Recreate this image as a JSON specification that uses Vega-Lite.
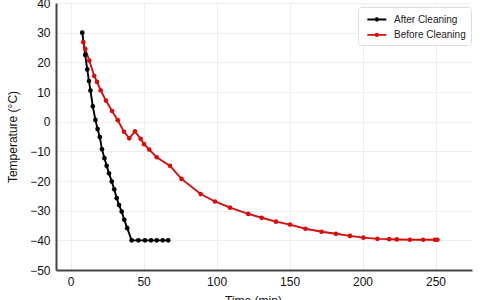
{
  "$schema": "https://vega.github.io/schema/vega-lite/v6.json",
  "width": 416,
  "height": 267,
  "autosize": "none",
  "padding": {"left": 56, "top": 3, "right": 28, "bottom": 30},
  "background": "white",
  "config": {
    "font": "Liberation Sans",
    "view": {"stroke": null},
    "axis": {
      "domainColor": "#444444",
      "domainWidth": 2,
      "ticks": false,
      "gridColor": "#eeeeee",
      "gridWidth": 1,
      "labelColor": "#111111",
      "labelFontSize": 12,
      "labelPadding": 6,
      "titleColor": "#111111",
      "titleFontSize": 12,
      "titleFontWeight": "normal"
    }
  },
  "data": {
    "values": [
      {"time": 8, "temp": 30, "series": "After Cleaning"},
      {"time": 10, "temp": 22.5, "series": "After Cleaning"},
      {"time": 11.4, "temp": 17.6, "series": "After Cleaning"},
      {"time": 12.6, "temp": 13.7, "series": "After Cleaning"},
      {"time": 13.6, "temp": 10.5, "series": "After Cleaning"},
      {"time": 15.2, "temp": 5.2, "series": "After Cleaning"},
      {"time": 17, "temp": 0.6, "series": "After Cleaning"},
      {"time": 18.5, "temp": -2.5, "series": "After Cleaning"},
      {"time": 20, "temp": -5.2, "series": "After Cleaning"},
      {"time": 21.5, "temp": -9.3, "series": "After Cleaning"},
      {"time": 23.2, "temp": -12.3, "series": "After Cleaning"},
      {"time": 24.7, "temp": -14.9, "series": "After Cleaning"},
      {"time": 26.3, "temp": -17.4, "series": "After Cleaning"},
      {"time": 28.2, "temp": -20.2, "series": "After Cleaning"},
      {"time": 29.9, "temp": -22.8, "series": "After Cleaning"},
      {"time": 31.6, "temp": -25.8, "series": "After Cleaning"},
      {"time": 33.2, "temp": -28.1, "series": "After Cleaning"},
      {"time": 35, "temp": -30.3, "series": "After Cleaning"},
      {"time": 36.8, "temp": -33.1, "series": "After Cleaning"},
      {"time": 38.8, "temp": -35.9, "series": "After Cleaning"},
      {"time": 41.8, "temp": -40, "series": "After Cleaning"},
      {"time": 46.4, "temp": -40, "series": "After Cleaning"},
      {"time": 51, "temp": -40, "series": "After Cleaning"},
      {"time": 55.1, "temp": -40, "series": "After Cleaning"},
      {"time": 59, "temp": -40, "series": "After Cleaning"},
      {"time": 63.1, "temp": -40, "series": "After Cleaning"},
      {"time": 66.9, "temp": -40, "series": "After Cleaning"},
      {"time": 8.7, "temp": 26.8, "series": "Before Cleaning"},
      {"time": 10.1, "temp": 24.5, "series": "Before Cleaning"},
      {"time": 12.8, "temp": 20.6, "series": "Before Cleaning"},
      {"time": 16.2, "temp": 15.4, "series": "Before Cleaning"},
      {"time": 18.1, "temp": 13.4, "series": "Before Cleaning"},
      {"time": 20.6, "temp": 10.6, "series": "Before Cleaning"},
      {"time": 24.2, "temp": 7.1, "series": "Before Cleaning"},
      {"time": 28.4, "temp": 3.6, "series": "Before Cleaning"},
      {"time": 32.3, "temp": 0.5, "series": "Before Cleaning"},
      {"time": 36.6, "temp": -3.4, "series": "Before Cleaning"},
      {"time": 40.2, "temp": -5.6, "series": "Before Cleaning"},
      {"time": 44.1, "temp": -3.3, "series": "Before Cleaning"},
      {"time": 48, "temp": -5.8, "series": "Before Cleaning"},
      {"time": 50.3, "temp": -7.6, "series": "Before Cleaning"},
      {"time": 53.9, "temp": -9.4, "series": "Before Cleaning"},
      {"time": 59, "temp": -12, "series": "Before Cleaning"},
      {"time": 68.1, "temp": -14.9, "series": "Before Cleaning"},
      {"time": 76, "temp": -19.3, "series": "Before Cleaning"},
      {"time": 89.1, "temp": -24.4, "series": "Before Cleaning"},
      {"time": 98.9, "temp": -26.9, "series": "Before Cleaning"},
      {"time": 109.2, "temp": -29, "series": "Before Cleaning"},
      {"time": 121.7, "temp": -31.1, "series": "Before Cleaning"},
      {"time": 130.9, "temp": -32.4, "series": "Before Cleaning"},
      {"time": 140.7, "temp": -33.7, "series": "Before Cleaning"},
      {"time": 150.3, "temp": -34.7, "series": "Before Cleaning"},
      {"time": 160.9, "temp": -36.1, "series": "Before Cleaning"},
      {"time": 172, "temp": -37.1, "series": "Before Cleaning"},
      {"time": 181.8, "temp": -37.8, "series": "Before Cleaning"},
      {"time": 191.4, "temp": -38.5, "series": "Before Cleaning"},
      {"time": 200.6, "temp": -39.1, "series": "Before Cleaning"},
      {"time": 210.2, "temp": -39.5, "series": "Before Cleaning"},
      {"time": 218.3, "temp": -39.6, "series": "Before Cleaning"},
      {"time": 223.4, "temp": -39.7, "series": "Before Cleaning"},
      {"time": 232.5, "temp": -39.8, "series": "Before Cleaning"},
      {"time": 241.6, "temp": -39.8, "series": "Before Cleaning"},
      {"time": 249.6, "temp": -39.8, "series": "Before Cleaning"},
      {"time": 251.3, "temp": -39.8, "series": "Before Cleaning"}
    ]
  },
  "mark": {
    "type": "line",
    "strokeWidth": 1.9,
    "point": {"filled": true, "size": 22}
  },
  "encoding": {
    "x": {
      "field": "time",
      "type": "quantitative",
      "title": "Time (min)",
      "scale": {"domain": [-10, 275], "nice": false, "zero": false},
      "axis": {"values": [0, 50, 100, 150, 200, 250], "titlePadding": 8, "titleX": 197}
    },
    "y": {
      "field": "temp",
      "type": "quantitative",
      "title": "Temperature (°C)",
      "scale": {"domain": [-50, 40], "nice": false, "zero": false},
      "axis": {"values": [-50, -40, -30, -20, -10, 0, 10, 20, 30, 40], "titlePadding": 10}
    },
    "color": {
      "field": "series",
      "type": "nominal",
      "scale": {"domain": ["After Cleaning", "Before Cleaning"], "range": ["#000000", "#d80d0d"]},
      "legend": {
        "title": null,
        "orient": "none",
        "legendX": 302,
        "legendY": 4,
        "padding": 5,
        "strokeColor": "#dddddd",
        "fillColor": "white",
        "cornerRadius": 3,
        "symbolType": "M-0.5,0H2.5M0.8,0A0.2,0.2,0,1,0,1.2,0A0.2,0.2,0,1,0,0.8,0",
        "symbolSize": 160,
        "symbolStrokeWidth": 1.8,
        "labelOffset": 16,
        "labelFontSize": 10,
        "labelColor": "#222222",
        "rowPadding": 2.4
      }
    }
  }
}
